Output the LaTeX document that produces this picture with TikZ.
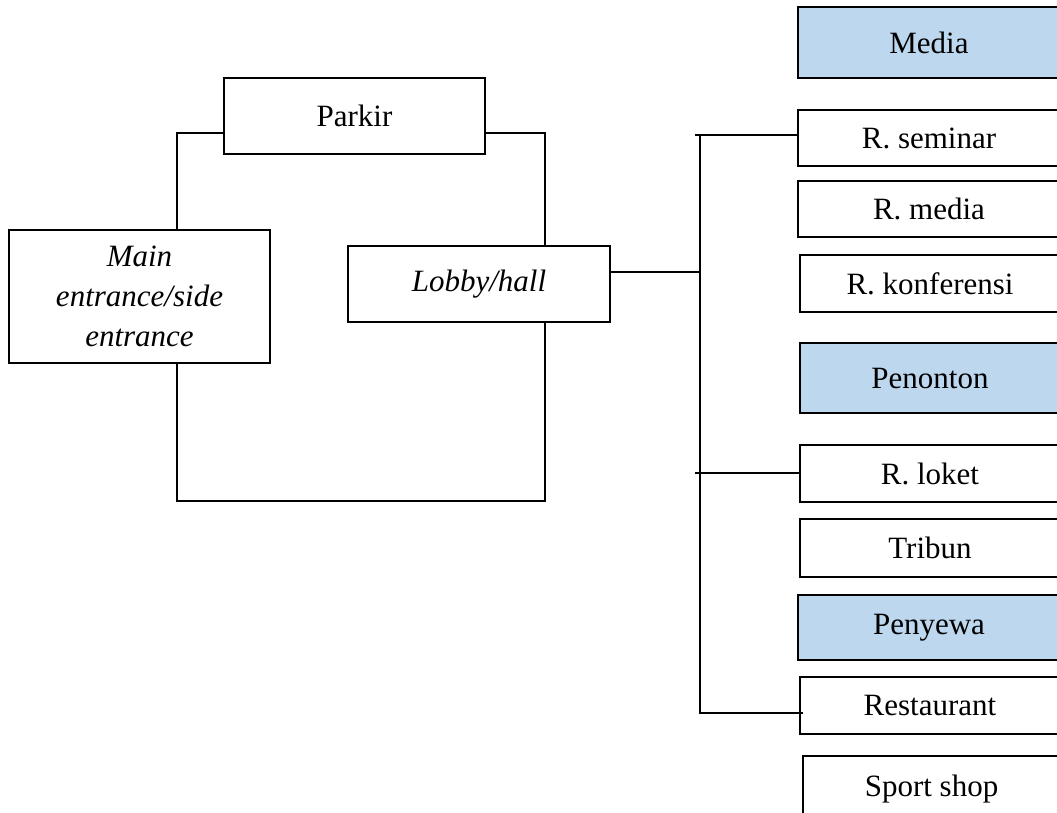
\documentclass[tikz,border=0pt]{standalone}
\usepackage{fontspec}
\setmainfont{Liberation Serif}
\definecolor{boxblue}{RGB}{189,215,238}
\begin{document}
\begin{tikzpicture}[x=1pt,y=-1pt,
  box/.style={draw=black, line width=1.4pt, inner sep=0pt, align=center,
    font=\fontsize{31}{40}\selectfont},
  fillbox/.style={box, fill=boxblue},
  conn/.style={draw=black, line width=1.4pt}]
\useasboundingbox (0,0) rectangle (1057,812);
\clip (0,0) rectangle (1057,812);
\fill[white] (0,0) rectangle (1057,812);
% left part
\node[box, minimum width=261pt, minimum height=76pt] (parkir) at (354.5,116) {Parkir};
\node[box, minimum width=261pt, minimum height=133pt, font=\fontsize{31}{40}\selectfont\itshape] (main) at (139.5,296.5) {Main\\entrance/side\\entrance};
\node[box, minimum width=262pt, minimum height=76pt, font=\fontsize{31}{40}\selectfont\itshape] (lobby) at (479,284) {Lobby/hall};
% right column
\node[fillbox, minimum width=262pt, minimum height=71pt] (media) at (929,42.5) {Media};
\node[box, minimum width=262pt, minimum height=56pt] (seminar) at (929,138) {R. seminar};
\node[box, minimum width=262pt, minimum height=56pt] (rmedia) at (929,209) {R. media};
\node[box, minimum width=260pt, minimum height=57pt] (konf) at (930,283.5) {R. konferensi};
\node[fillbox, minimum width=260pt, minimum height=70pt] (penonton) at (930,378) {Penonton};
\node[box, minimum width=260pt, minimum height=57pt] (loket) at (930,473.5) {R. loket};
\node[box, minimum width=260pt, minimum height=58pt] (tribun) at (930,548) {Tribun};
\node[fillbox, minimum width=262pt, minimum height=65pt] (penyewa) at (929,627.5) {Penyewa};
\node[box, minimum width=260pt, minimum height=57pt] (restaurant) at (930,705.5) {Restaurant};
\node[box, minimum width=257pt, minimum height=66pt] (sport) at (931.5,789) {Sport shop};
% connectors left
\draw[conn] ([yshift=-17pt]parkir.west) -| ([xshift=37.5pt]main.north);
\draw[conn] ([yshift=-17pt]parkir.east) -| ([xshift=66pt]lobby.north);
\coordinate (bl) at (177,501);
\draw[conn] ([xshift=37.5pt]main.south) -- (bl) -| ([xshift=66pt]lobby.south);
% trunk
\coordinate (ttop) at (700,135);
\coordinate (tmid) at (700,272);
\coordinate (tbot) at (700,713);
\coordinate (tl1) at (695,135);
\coordinate (tl2) at (695,473);
\draw[conn] ([yshift=12pt]lobby.east) -- (tmid);
\draw[conn] (ttop) -- (tbot) -- ([xshift=4pt]restaurant.west |- tbot);
\draw[conn] (tl1) -- (seminar.west |- tl1);
\draw[conn] (tl2) -- (loket.west |- tl2);
\end{tikzpicture}
\end{document}
